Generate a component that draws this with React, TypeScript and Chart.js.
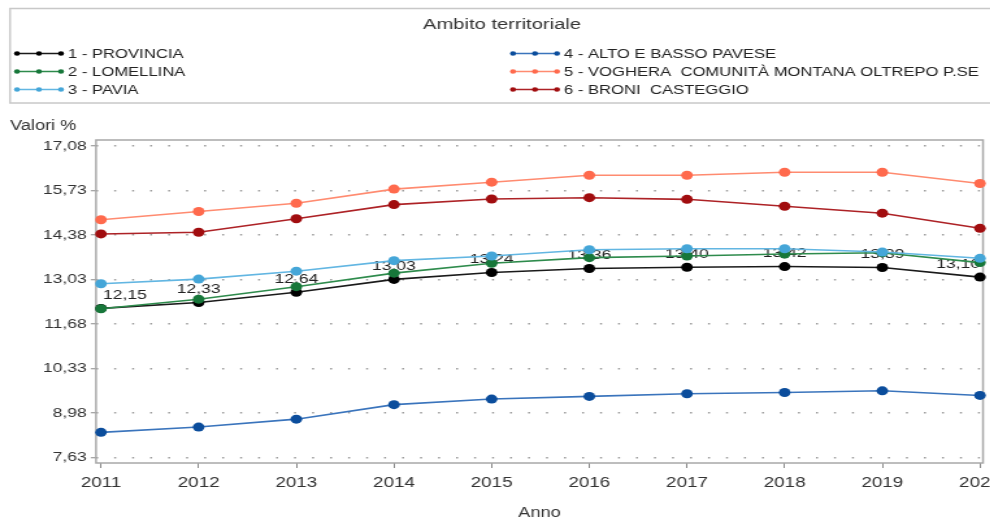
import React, { useEffect, useRef } from "react";
import { Chart, registerables } from "chart.js";

Chart.register(...registerables);

// ---- data ----
const years = [2011, 2012, 2013, 2014, 2015, 2016, 2017, 2018, 2019, 2020];
const provincia = [12.15, 12.33, 12.64, 13.03, 13.24, 13.36, 13.4, 13.42, 13.39, 13.1];
const lomellina = [12.14, 12.43, 12.81, 13.22, 13.52, 13.69, 13.74, 13.8, 13.84, 13.54];
const pavia = [12.9, 13.04, 13.28, 13.6, 13.74, 13.93, 13.96, 13.96, 13.86, 13.67];
const altoBassoPavese = [8.39, 8.55, 8.79, 9.23, 9.4, 9.48, 9.56, 9.6, 9.65, 9.51];
const voghera = [14.84, 15.09, 15.34, 15.77, 15.98, 16.19, 16.19, 16.28, 16.28, 15.94];
const broni = [14.41, 14.46, 14.87, 15.3, 15.47, 15.51, 15.46, 15.25, 15.04, 14.58];
const yTicks = [7.63, 8.98, 10.33, 11.68, 13.03, 14.38, 15.73, 17.08];
const seriesNames = [
  "1 - PROVINCIA",
  "2 - LOMELLINA",
  "3 - PAVIA",
  "4 - ALTO E BASSO PAVESE",
  "5 - VOGHERA  COMUNITÀ MONTANA OLTREPO P.SE",
  "6 - BRONI  CASTEGGIO",
];
const legendTitle = "Ambito territoriale";
const yTitle = "Valori %";
const xTitle = "Anno";

// ---- styles ----
const FAMILY = '"Liberation Sans", Arial, sans-serif';
const INNER_W = 785;
const CSS_W = 1020;
const H = 520;
const S = CSS_W / INNER_W; // horizontal stretch of the reference
const pointColors = ["#000000", "#17773a", "#45a6d8", "#0b4d9c", "#ff6a4d", "#a10d0f"];
const lineColors = ["#1a1a1a", "#2e8b4c", "#62b6e2", "#3a74bc", "#ff8b70", "#ad2226"];

const seriesValues = [provincia, lomellina, pavia, altoBassoPavese, voghera, broni];

const decorPlugin = {
  id: "refDecor",
  beforeDatasetsDraw(chart: any) {
    const { ctx, chartArea: a } = chart;
    ctx.save();
    ctx.strokeStyle = "#a8a8a8";
    ctx.lineWidth = 1.5;
    ctx.strokeRect(a.left, a.top, a.right - a.left, a.bottom - a.top);
    ctx.restore();
  },
  afterDatasetDraw(chart: any, args: any) {
    if (args.index !== 0) return;
    const { ctx, chartArea: a } = chart;
    const meta = chart.getDatasetMeta(0);
    ctx.save();
    ctx.font = `13.5px ${FAMILY}`;
    ctx.fillStyle = "#222";
    ctx.textBaseline = "middle";
    ctx.textAlign = "left";
    meta.data.forEach((el: any, i: number) => {
      const text = provincia[i].toFixed(2).replace(".", ",");
      const w = ctx.measureText(text).width;
      let x = el.x - w / 2;
      x = Math.max(x, a.left + 5.4);
      x = Math.min(x, a.right - 2.3 - w);
      ctx.fillText(text, x, el.y - 13);
    });
    ctx.restore();
  },
  afterDraw(chart: any) {
    const { ctx } = chart;
    ctx.save();
    // legend frame
    ctx.strokeStyle = "#c8c8c8";
    ctx.lineWidth = 1.5;
    ctx.strokeRect(10 / S, 8.5, INNER_W, 94.5);
    // legend title
    ctx.fillStyle = "#333";
    ctx.font = `15.5px ${FAMILY}`;
    ctx.textAlign = "center";
    ctx.textBaseline = "middle";
    ctx.fillText(legendTitle, 502 / S, 25);
    // legend items
    const rows = [53.5, 71.5, 89.5];
    ctx.font = `12.8px ${FAMILY}`;
    ctx.textAlign = "left";
    seriesNames.forEach((name, i) => {
      const col = Math.floor(i / 3);
      const y = rows[i % 3];
      const off = col * (496 / S);
      const x0 = 15 / S + off;
      const x1 = 63 / S + off;
      ctx.strokeStyle = lineColors[i];
      ctx.lineWidth = 1.6;
      ctx.beginPath();
      ctx.moveTo(x0, y);
      ctx.lineTo(x1, y);
      ctx.stroke();
      ctx.fillStyle = pointColors[i];
      [17, 39, 61].forEach((dx) => {
        ctx.beginPath();
        ctx.arc(dx / S + off, y, 2.3, 0, Math.PI * 2);
        ctx.fill();
      });
      ctx.fillStyle = "#222";
      ctx.fillText(name, 68 / S + off, y + 0.5);
    });
    // y axis title
    ctx.fillStyle = "#333";
    ctx.font = `14px ${FAMILY}`;
    ctx.fillText(yTitle, 10 / S, 126);
    ctx.restore();
  },
};

export default function App() {
  const ref = useRef<HTMLCanvasElement>(null);
  useEffect(() => {
    const canvas = ref.current;
    if (!canvas) return;
    const datasets = seriesValues.map((vals, i) => ({
      label: seriesNames[i],
      data: years.map((x, j) => ({ x, y: vals[j] })),
      borderColor: lineColors[i],
      backgroundColor: pointColors[i],
      pointBackgroundColor: pointColors[i],
      pointBorderColor: pointColors[i],
      pointBorderWidth: 0,
      pointRadius: 4.5,
      borderWidth: 1.6,
      tension: 0,
      clip: false as any,
      order: 6 - i,
    }));
    const chart = new Chart(canvas, {
      type: "line",
      data: { datasets },
      options: {
        responsive: false,
        animation: false,
        devicePixelRatio: 1,
        layout: { padding: { top: 140, left: 0, right: INNER_W - 983 / S, bottom: 0 } },
        plugins: { legend: { display: false }, tooltip: { enabled: false } },
        scales: {
          x: {
            type: "linear",
            min: 2010.949,
            max: 2020.031,
            afterBuildTicks: (s: any) => {
              s.ticks = years.map((v) => ({ value: v }));
            },
            afterFit: (s: any) => {
              s.height = H - 463;
            },
            ticks: {
              callback: (v: any) => String(v),
              font: { family: FAMILY, size: 14.5 },
              color: "#333",
              padding: 6,
              maxRotation: 0,
              autoSkip: false,
            },
            grid: {
              drawOnChartArea: false,
              drawTicks: true,
              tickLength: 5,
              tickColor: "#888",
              tickWidth: 1,
              tickBorderDash: [],
            },
            border: { display: false },
            title: {
              display: true,
              text: xTitle,
              font: { family: FAMILY, size: 14, lineHeight: 1 },
              color: "#333",
              padding: 0,
            },
          },
          y: {
            min: 7.46,
            max: 17.26,
            afterBuildTicks: (s: any) => {
              s.ticks = yTicks.map((v) => ({ value: v }));
            },
            afterFit: (s: any) => {
              s.width = 96 / S;
            },
            ticks: {
              callback: (v: any) => Number(v).toFixed(2).replace(".", ","),
              font: { family: FAMILY, size: 13.5 },
              color: "#333",
              padding: 3,
              autoSkip: false,
            },
            grid: {
              color: "#9a9a9a",
              lineWidth: 1.5,
              drawTicks: true,
              tickLength: 4,
              tickColor: "#888",
              tickWidth: 1,
              tickBorderDash: [],
            },
            border: { display: false, dash: [1.5, 12.35] },
          },
        },
      } as any,
      plugins: [decorPlugin],
    });
    return () => chart.destroy();
  }, []);

  return (
    <div
      style={{
        position: "absolute",
        left: 0,
        top: 0,
        width: 990,
        height: H,
        overflow: "hidden",
        background: "#fff",
      }}
    >
      <canvas
        ref={ref}
        width={INNER_W}
        height={H}
        style={{ width: `${CSS_W}px`, height: `${H}px`, display: "block" }}
      />
    </div>
  );
}
